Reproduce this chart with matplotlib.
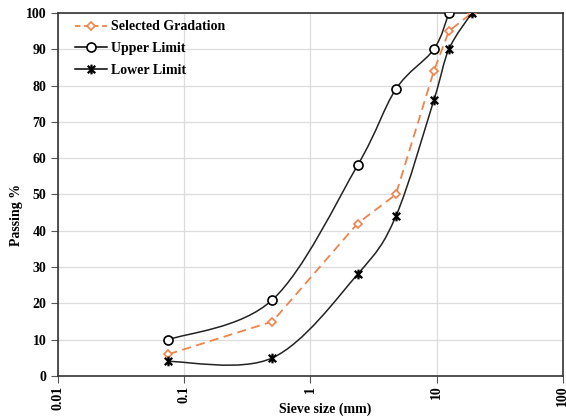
import numpy as np
import matplotlib.pyplot as plt
from matplotlib.path import Path
from matplotlib.patches import PathPatch
from matplotlib.lines import Line2D

plt.rcParams['font.family'] = ['Liberation Serif', 'DejaVu Serif']
plt.rcParams['font.weight'] = 'bold'

# sieve sizes (mm) and passing (%)
sel_x = [0.075, 0.5, 2.36, 4.75, 9.5, 12.5, 19]
sel_y = [6, 15, 42, 50, 84, 95, 100]
up_x = [0.075, 0.5, 2.36, 4.75, 9.5, 12.5]
up_y = [10, 21, 58, 79, 90, 100]
low_x = [0.075, 0.5, 2.36, 4.75, 9.5, 12.5, 19]
low_y = [4, 5, 28, 44, 76, 90, 100]

orange = '#F0834A'

# excel-like star marker: x with a vertical bar
star = Path([(-1, -1), (1, 1), (-1, 1), (1, -1), (0, -1.3), (0, 1.3)],
            [Path.MOVETO, Path.LINETO, Path.MOVETO, Path.LINETO, Path.MOVETO, Path.LINETO])


def smooth_path(xs, ys):
    # bezier segments built in log-x space, like excel's smoothed lines
    p = np.column_stack([np.log10(xs), ys])
    n = len(p)
    verts = [p[0]]
    codes = [Path.MOVETO]
    for i in range(n - 1):
        a = p[i - 1] if i > 0 else p[i]
        b = p[i + 2] if i + 2 < n else p[i + 1]
        c1 = p[i] + (p[i + 1] - a) / 6
        c2 = p[i + 1] - (b - p[i]) / 6
        verts += [c1, c2, p[i + 1]]
        codes += [Path.CURVE4] * 3
    verts = np.array(verts)
    verts[:, 0] = 10 ** verts[:, 0]
    return Path(verts, codes)


fig = plt.figure(figsize=(5.66, 4.18), dpi=100)
ax = fig.add_axes([0.1025, 0.1005, 0.892, 0.8685])
ax.set_xscale('log')
ax.set_xlim(0.01, 100)
ax.set_ylim(0, 100)

ax.add_patch(PathPatch(smooth_path(up_x, up_y), fill=False, ec='#222222', lw=1.1, zorder=3))
ax.add_patch(PathPatch(smooth_path(low_x, low_y), fill=False, ec='#222222', lw=1.1, zorder=3))
ax.plot(sel_x, sel_y, color=orange, lw=1.3, ls=(0, (5, 3)), zorder=4)

ax.plot(sel_x, sel_y, ls='none', marker='D', ms=4.5, mfc='white', mec=orange, mew=1.2, zorder=5)
ax.plot(up_x, up_y, ls='none', marker='o', ms=6.5, mfc='white', mec='black', mew=1.2, zorder=5)
ax.plot(low_x, low_y, ls='none', marker=star, ms=7, mec='black', mew=1.6, zorder=5)

handles = [
    Line2D([], [], color=orange, lw=1.3, ls=(0, (3, 2)), marker='D', ms=4.5, mfc='white', mec=orange, mew=1.2),
    Line2D([], [], color='black', lw=1.1, marker='o', ms=6.5, mfc='white', mec='black', mew=1.2),
    Line2D([], [], color='black', lw=1.1, marker=star, ms=7, mec='black', mew=1.6),
]
ax.legend(handles, ['Selected Gradation', 'Upper Limit', 'Lower Limit'], loc='upper left',
          frameon=False, fontsize=10, handlelength=2.3, handletextpad=0.3, labelspacing=0.62,
          bbox_to_anchor=(0.009, 1.014))

ax.set_yticks(np.arange(0, 101, 10))
ax.set_xticks([0.01, 0.1, 1, 10, 100])
ax.set_xticklabels(['0.01', '0.1', '1', '10', '100'], rotation=90)
ax.minorticks_off()
ax.tick_params(labelsize=10, length=5, width=0.8, color='#555555')
ax.tick_params(axis='x', pad=2)
ax.grid(True, color='#dcdcdc', lw=0.9)
ax.set_axisbelow(True)
for s in ax.spines.values():
    s.set_color('#333333')
    s.set_linewidth(1.2)

ax.set_xlabel('Sieve size (mm)', fontsize=10, fontweight='bold')
ax.xaxis.set_label_coords(0.529, -0.072)
ax.set_ylabel('Passing %', fontsize=10, fontweight='bold')
ax.yaxis.set_label_coords(-0.069, 0.443)

fig.savefig('out.png', dpi=100)
